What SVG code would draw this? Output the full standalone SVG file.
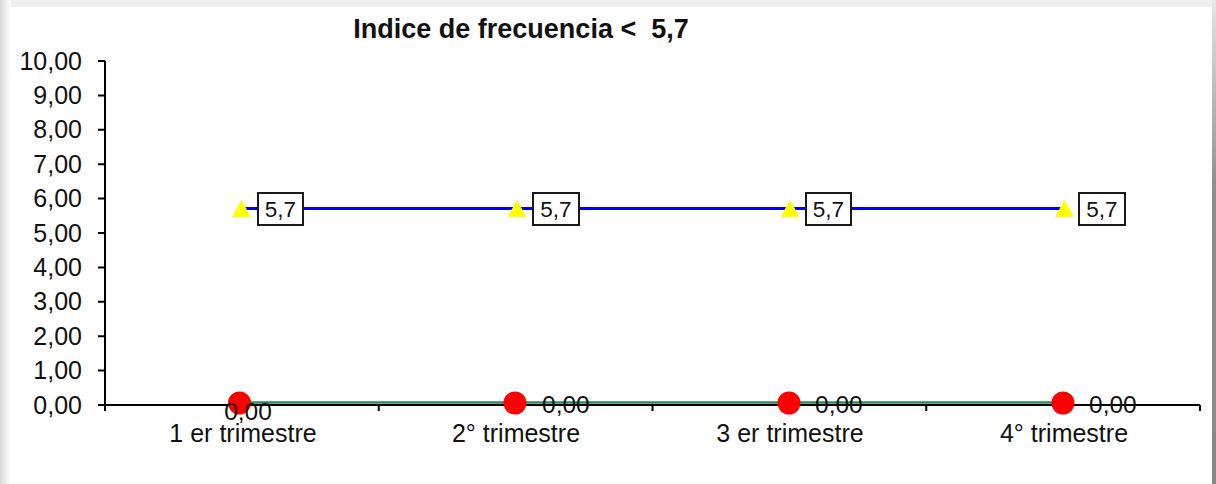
<svg xmlns="http://www.w3.org/2000/svg" width="1216" height="484" viewBox="0 0 1216 484">
  <defs>
    <linearGradient id="leftEdge" x1="0" y1="0" x2="1" y2="0">
      <stop offset="0" stop-color="#d8d8d8"/>
      <stop offset="1" stop-color="#ffffff"/>
    </linearGradient>
    <linearGradient id="rightEdge" x1="0" y1="0" x2="0" y2="1">
      <stop offset="0" stop-color="#e6e6e6"/>
      <stop offset="0.4" stop-color="#8c8c8c"/>
      <stop offset="1" stop-color="#8a8a8a"/>
    </linearGradient>
    <style>
      .lbl { font-family: "Liberation Sans", Arial, sans-serif; fill: #111111; }
      .ytick { font-size: 25px; text-anchor: end; }
      .cat { font-size: 25px; text-anchor: middle; }
      .dl { font-size: 24.5px; }
      .box { fill: #ffffff; stroke: #1a1a1a; stroke-width: 2; }
      .boxt { font-size: 22.5px; text-anchor: middle; }
      .tri { fill: #ffff00; }
      .dot { fill: #ff0000; }
      .axis { stroke: #000000; stroke-width: 2; fill: none; }
    </style>
  </defs>

  <!-- frame -->
  <rect x="0" y="0" width="1216" height="484" fill="#ffffff"/>
  <rect x="0" y="0" width="1216" height="7" fill="#efefef"/>
  <rect x="0" y="0" width="11" height="484" fill="url(#leftEdge)"/>
  <rect x="1212" y="0" width="4" height="484" fill="url(#rightEdge)"/>

  <!-- title -->
  <text id="title" class="lbl" x="521" y="38" font-size="27" font-weight="bold" text-anchor="middle">Indice de frecuencia &lt;&#160; 5,7</text>

  <!-- axes -->
  <g id="axes">
    <path class="axis" d="M105,61 V405 H1200"/>
    <path class="axis" d="M98,61 H105 M98,95.4 H105 M98,129.8 H105 M98,164.2 H105 M98,198.6 H105 M98,233 H105 M98,267.4 H105 M98,301.8 H105 M98,336.2 H105 M98,370.6 H105 M98,405 H105"/>
    <path class="axis" d="M105,405 V411 M378.75,405 V411 M652.5,405 V411 M926.25,405 V411 M1200,405 V411"/>
    <g class="lbl ytick">
      <text x="82" y="69.5">10,00</text>
      <text x="82" y="103.9">9,00</text>
      <text x="82" y="138.3">8,00</text>
      <text x="82" y="172.7">7,00</text>
      <text x="82" y="207.1">6,00</text>
      <text x="82" y="241.5">5,00</text>
      <text x="82" y="275.9">4,00</text>
      <text x="82" y="310.3">3,00</text>
      <text x="82" y="344.7">2,00</text>
      <text x="82" y="379.1">1,00</text>
      <text x="82" y="413.5">0,00</text>
    </g>
    <g class="lbl cat">
      <text x="243" y="442">1 er trimestre</text>
      <text x="516" y="442">2° trimestre</text>
      <text x="790" y="442">3 er trimestre</text>
      <text x="1064" y="442">4° trimestre</text>
    </g>
  </g>

  <!-- connectors (series lines) -->
  <g id="connectors">
    <line x1="241" y1="208.5" x2="1064" y2="208.5" stroke="#0000ff" stroke-width="3"/>
    <line x1="240" y1="402.5" x2="1063" y2="402.5" stroke="#2e8b57" stroke-width="2.5"/>
  </g>

  <!-- threshold series nodes -->
  <g id="q1-limit">
    <polygon class="tri" points="241.5,200 232,217 251,217"/>
    <rect class="box" x="258" y="193" width="45" height="32"/>
    <text class="lbl boxt" x="280.5" y="217">5,7</text>
  </g>
  <g id="q2-limit">
    <polygon class="tri" points="517,200 507.5,217 526.5,217"/>
    <rect class="box" x="533" y="193" width="46" height="32"/>
    <text class="lbl boxt" x="556" y="217">5,7</text>
  </g>
  <g id="q3-limit">
    <polygon class="tri" points="790,200 780.5,217 799.5,217"/>
    <rect class="box" x="806" y="193" width="45" height="32"/>
    <text class="lbl boxt" x="828.5" y="217">5,7</text>
  </g>
  <g id="q4-limit">
    <polygon class="tri" points="1064.5,200 1055,217 1074,217"/>
    <rect class="box" x="1079" y="193" width="46" height="32"/>
    <text class="lbl boxt" x="1102" y="217">5,7</text>
  </g>

  <!-- actual series nodes -->
  <g id="q1-value">
    <circle class="dot" cx="239.5" cy="403" r="11.5"/>
    <text class="lbl dl" x="248" y="420" text-anchor="middle">0,00</text>
  </g>
  <g id="q2-value">
    <circle class="dot" cx="515" cy="403" r="11.5"/>
    <text class="lbl dl" x="542" y="413">0,00</text>
  </g>
  <g id="q3-value">
    <circle class="dot" cx="789" cy="403" r="11.5"/>
    <text class="lbl dl" x="815" y="413">0,00</text>
  </g>
  <g id="q4-value">
    <circle class="dot" cx="1063" cy="403" r="11.5"/>
    <text class="lbl dl" x="1089" y="413">0,00</text>
  </g>
</svg>
